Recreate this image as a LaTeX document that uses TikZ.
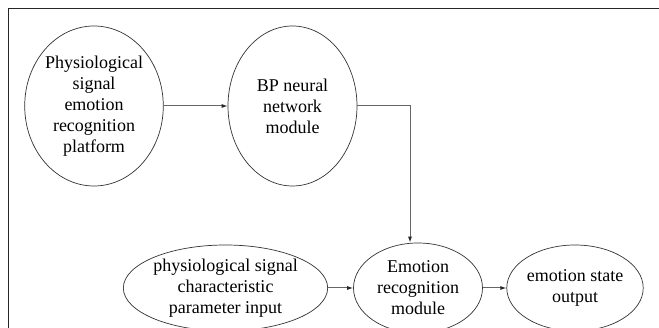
\documentclass[tikz,border=0pt]{standalone}
\usepackage{fontspec}
\setmainfont{Liberation Serif}
\usepackage{tikz}
\usetikzlibrary{shapes.geometric,arrows.meta}

\begin{document}
\begin{tikzpicture}[x=1pt,y=1pt,
	module/.style={ellipse, draw=black!80, line width=0.7pt, inner sep=0pt, align=center,
		font=\fontsize{18}{21}\selectfont},
	link/.style={draw=black!60, line width=1pt, -{Latex[length=6pt,width=4pt,black!85]}}]

	% page size
	\useasboundingbox (0,0) rectangle (659,328);

	%frame (left and top side)
	\draw[black!85, line width=1pt] (8,0) -- (8,319) -- (659,319);

	%top row
	\def\topY{222}
	\def\botY{40}

	\node[module, minimum width=129, minimum height=160] (platform) at (94,\topY)
		{Physiological\\signal\\emotion\\recognition\\platform};
	\node[module, minimum width=129, minimum height=160] (bpnet) at (292.5,\topY)
		{BP neural\\network\\module};

	%bottom row
	\node[module, minimum width=187, minimum height=86] (input) at (225.5,\botY)
		{physiological signal\\characteristic\\parameter input};
	\node[module, minimum width=129, minimum height=90] (emorec) at (418,\botY)
		{Emotion\\recognition\\module};
	\node[module, minimum width=128, minimum height=86] (output) at (575,\botY)
		{emotion state\\output};

	\coordinate (corner) at (410,\topY);

	%connectors
	\draw[link] (platform.east) -- (bpnet.west);
	\draw[link] (bpnet.east) -- (corner) -- (corner |- emorec.north);
	\draw[link] (input.east) -- (emorec.west);
	\draw[link] (emorec.east) -- (output.west);

\end{tikzpicture}
\end{document}
